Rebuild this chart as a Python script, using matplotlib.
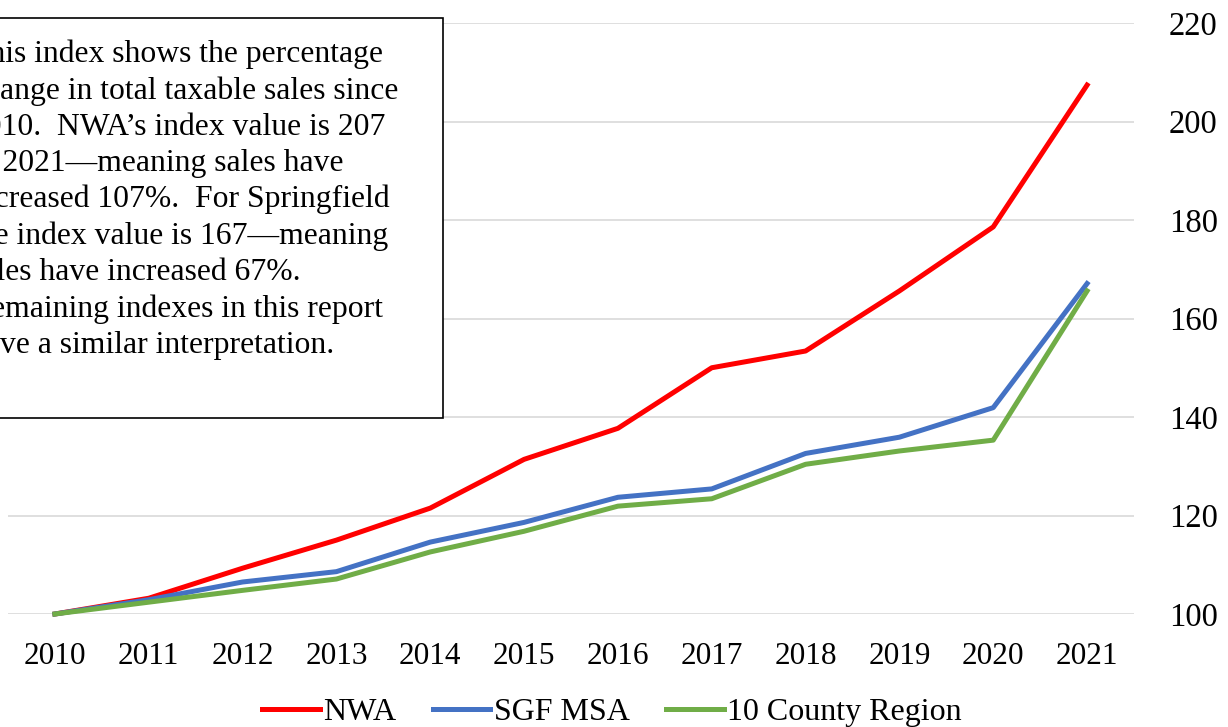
import matplotlib
matplotlib.use("Agg")
import matplotlib.pyplot as plt
from matplotlib.patches import Rectangle

plt.rcParams['font.family'] = ['Liberation Serif', 'DejaVu Serif']

years = ['2010', '2011', '2012', '2013', '2014', '2015', '2016', '2017', '2018', '2019', '2020', '2021']
nwa = [100, 103.2, 109.3, 115.0, 121.5, 131.4, 137.7, 150.0, 153.4, 165.6, 178.6, 207.4]
sgf = [100, 102.9, 106.5, 108.6, 114.6, 118.6, 123.7, 125.4, 132.6, 135.9, 141.9, 167.1]
county = [100, 102.4, 104.8, 107.1, 112.6, 116.8, 121.9, 123.4, 130.4, 133.1, 135.3, 165.6]
yticks = [100, 120, 140, 160, 180, 200, 220]

W, H = 1228, 727
fig = plt.figure(figsize=(W / 100, H / 100), dpi=100)
ax = fig.add_axes([8 / W, 1 - 614 / H, (1134 - 8) / W, (614 - 23) / H])

x = list(range(len(years)))
ax.plot(x, nwa, color='#FF0000', lw=3.6, label='NWA', clip_on=False, zorder=3)
ax.plot(x, sgf, color='#4472C4', lw=3.6, label='SGF MSA', clip_on=False, zorder=3)
ax.plot(x, county, color='#70AD47', lw=3.6, label='10 County Region', clip_on=False, zorder=3)

ax.set_xlim(-0.5, len(years) - 0.5)
ax.set_ylim(100, 220)
ax.set_xticks(x)
ax.set_xticklabels(years)
ax.set_yticks(yticks)
ax.yaxis.tick_right()
ax.tick_params(axis='x', length=0, labelsize=22.5, pad=20)
ax.tick_params(axis='y', length=0, labelsize=23.5, pad=25)
ax.grid(axis='y', color='#D9D9D9', lw=1.2)
for s in ax.spines.values():
    s.set_visible(False)

fig.legend(loc='center', bbox_to_anchor=(612 / W, 1 - 712 / H), ncol=3, frameon=False,
           fontsize=23, handlelength=1.8, handletextpad=0.1, columnspacing=1.15)

# annotation box
bx0, by0, bx1, by1 = -40, 18, 443, 418
fig.patches.append(Rectangle((bx0 / W, 1 - by1 / H), (bx1 - bx0) / W, (by1 - by0) / H,
                             transform=fig.transFigure, facecolor='white', edgecolor='black',
                             lw=1.2, zorder=5))
note = ("This index shows the percentage\n"
        "change in total taxable sales since\n"
        "2010.  NWA\u2019s index value is 207\n"
        "in 2021\u2014meaning sales have\n"
        "increased 107%.  For Springfield\n"
        "the index value is 167\u2014meaning\n"
        "sales have increased 67%.\n"
        "Remaining indexes in this report\n"
        "have a similar interpretation.")
fig.text(-30 / W, 1 - 39.5 / H, note, ha='left', va='top', fontsize=22.8,
         linespacing=1.32, zorder=6)

fig.savefig('out.png', dpi=100)
